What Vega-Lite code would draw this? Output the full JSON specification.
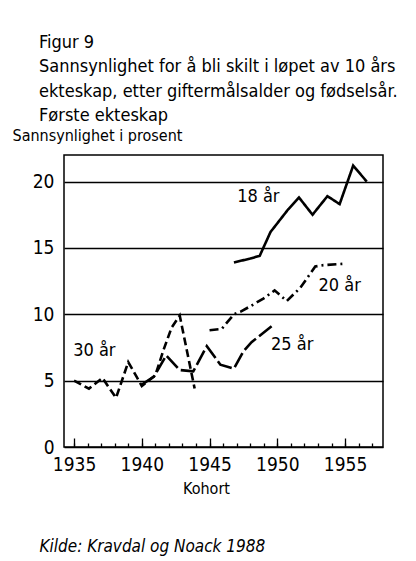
{
  "$schema": "https://vega.github.io/schema/vega-lite/v6.json",
  "width": 319,
  "height": 292,
  "autosize": {"type": "none"},
  "padding": {"left": 64, "top": 155, "right": 33, "bottom": 114},
  "background": "white",
  "config": {
    "font": "Liberation Sans Narrow, DejaVu Sans Condensed, Liberation Sans, sans-serif",
    "view": {"stroke": "black", "strokeWidth": 1.5},
    "axis": {"labelColor": "black", "titleColor": "black", "titleFontWeight": "normal"}
  },
  "title": {
    "text": ["Figur 9", "Sannsynlighet for å bli skilt i løpet av 10 års", "ekteskap, etter giftermålsalder og fødselsår.", "Første ekteskap"],
    "anchor": "start",
    "frame": "group",
    "fontSize": 18,
    "fontWeight": "normal",
    "color": "black",
    "lineHeight": 24.5,
    "dx": -25,
    "dy": 38,
    "offset": 40
  },
  "datasets": {
    "lines": [
      {"s": "18 år", "year": 1946.8, "value": 13.9},
      {"s": "18 år", "year": 1948.0, "value": 14.2},
      {"s": "18 år", "year": 1948.7, "value": 14.4},
      {"s": "18 år", "year": 1949.5, "value": 16.2},
      {"s": "18 år", "year": 1950.8, "value": 17.9},
      {"s": "18 år", "year": 1951.6, "value": 18.8},
      {"s": "18 år", "year": 1952.6, "value": 17.5},
      {"s": "18 år", "year": 1953.7, "value": 18.9},
      {"s": "18 år", "year": 1954.6, "value": 18.3},
      {"s": "18 år", "year": 1955.6, "value": 21.2},
      {"s": "18 år", "year": 1956.6, "value": 20.0},
      {"s": "20 år", "year": 1945.0, "value": 8.8},
      {"s": "20 år", "year": 1945.9, "value": 8.9},
      {"s": "20 år", "year": 1946.8, "value": 10.0},
      {"s": "20 år", "year": 1947.3, "value": 10.2},
      {"s": "20 år", "year": 1948.0, "value": 10.6},
      {"s": "20 år", "year": 1949.0, "value": 11.2},
      {"s": "20 år", "year": 1949.8, "value": 11.8},
      {"s": "20 år", "year": 1950.7, "value": 11.0},
      {"s": "20 år", "year": 1951.7, "value": 12.0},
      {"s": "20 år", "year": 1952.8, "value": 13.6},
      {"s": "20 år", "year": 1953.4, "value": 13.7},
      {"s": "20 år", "year": 1954.8, "value": 13.8},
      {"s": "25 år", "year": 1940.0, "value": 4.7},
      {"s": "25 år", "year": 1940.9, "value": 5.3},
      {"s": "25 år", "year": 1941.8, "value": 6.9},
      {"s": "25 år", "year": 1942.8, "value": 5.8},
      {"s": "25 år", "year": 1943.8, "value": 5.7},
      {"s": "25 år", "year": 1944.8, "value": 7.6},
      {"s": "25 år", "year": 1945.8, "value": 6.2},
      {"s": "25 år", "year": 1946.8, "value": 5.9},
      {"s": "25 år", "year": 1947.5, "value": 7.2},
      {"s": "25 år", "year": 1948.1, "value": 7.9},
      {"s": "25 år", "year": 1949.7, "value": 9.2},
      {"s": "30 år", "year": 1935.0, "value": 5.0},
      {"s": "30 år", "year": 1936.1, "value": 4.4},
      {"s": "30 år", "year": 1937.1, "value": 5.2},
      {"s": "30 år", "year": 1938.1, "value": 3.7},
      {"s": "30 år", "year": 1939.0, "value": 6.4},
      {"s": "30 år", "year": 1940.0, "value": 4.6},
      {"s": "30 år", "year": 1941.0, "value": 5.4},
      {"s": "30 år", "year": 1941.6, "value": 7.3},
      {"s": "30 år", "year": 1942.2, "value": 9.0},
      {"s": "30 år", "year": 1942.8, "value": 9.9},
      {"s": "30 år", "year": 1943.9, "value": 4.4}
    ],
    "labels": [
      {"text": "18 år", "year": 1948.6, "value": 18.8},
      {"text": "20 år", "year": 1954.6, "value": 12.1},
      {"text": "25 år", "year": 1951.1, "value": 7.7},
      {"text": "30 år", "year": 1936.5, "value": 7.2}
    ]
  },
  "encoding": {
    "y": {
      "field": "value",
      "type": "quantitative",
      "scale": {"domain": [0, 22], "nice": false, "zero": true},
      "axis": {
        "values": [0, 5, 10, 15, 20],
        "grid": true,
        "gridColor": "black",
        "gridWidth": 1.5,
        "gridOpacity": 1,
        "ticks": false,
        "domain": false,
        "labelFontSize": 19,
        "labelPadding": 10,
        "title": "Sannsynlighet i prosent",
        "titleAngle": 0,
        "titleAlign": "left",
        "titleBaseline": "alphabetic",
        "titleX": -52,
        "titleY": -15,
        "titleFontSize": 16
      }
    }
  },
  "layer": [
    {
      "data": {"name": "lines"},
      "mark": {"type": "line", "color": "black", "strokeWidth": 2.6},
      "encoding": {
        "x": {
          "field": "year",
          "type": "quantitative",
          "scale": {"domain": [1934.26, 1957.8], "nice": false, "zero": false},
          "axis": {
            "orient": "bottom",
            "values": [1935, 1936, 1937, 1938, 1939, 1940, 1941, 1942, 1943, 1944, 1945, 1946, 1947, 1948, 1949, 1950, 1951, 1952, 1953, 1954, 1955, 1956, 1957],
            "tickSize": -4,
            "tickColor": "black",
            "tickWidth": 1.3,
            "labels": false,
            "domain": false,
            "grid": false,
            "title": "Kilde: Kravdal og Noack 1988",
            "titleFontStyle": "italic",
            "titleFontSize": 17,
            "titleAlign": "left",
            "titleBaseline": "alphabetic",
            "titleX": -25,
            "titleY": 104
          }
        },
        "detail": {"field": "s"},
        "strokeDash": {
          "field": "s",
          "type": "nominal",
          "scale": {"domain": ["18 år", "20 år", "25 år", "30 år"], "range": [[1, 0], [9, 4, 2, 4], [16, 4], [8, 4]]},
          "legend": null
        }
      }
    },
    {
      "data": {"name": "labels"},
      "mark": {"type": "text", "fontSize": 18, "color": "black", "align": "center", "baseline": "middle"},
      "encoding": {
        "x": {
          "field": "year",
          "type": "quantitative",
          "scale": {"domain": [1934.26, 1957.8], "nice": false, "zero": false},
          "axis": {
            "orient": "bottom",
            "values": [1935, 1940, 1945, 1950, 1955],
            "tickSize": -9,
            "tickColor": "black",
            "tickWidth": 1.3,
            "labelFontSize": 19,
            "labelPadding": 17,
            "domain": false,
            "grid": false,
            "format": "d",
            "title": "Kohort",
            "titleFontSize": 16,
            "titleAlign": "center",
            "titleBaseline": "alphabetic",
            "titleX": 142,
            "titleY": 46
          }
        },
        "text": {"field": "text"}
      }
    }
  ],
  "resolve": {"axis": {"x": "independent"}}
}
